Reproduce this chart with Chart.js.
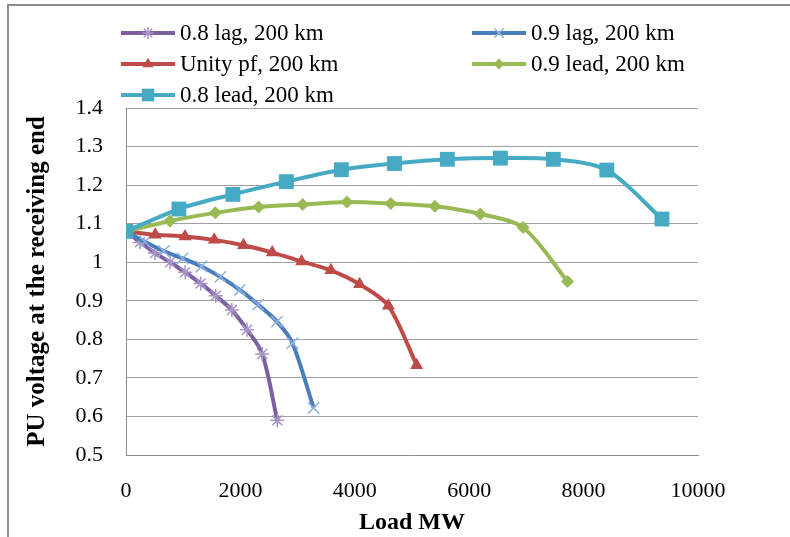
<!DOCTYPE html>
<html>
<head>
<meta charset="utf-8">
<script src="https://cdn.jsdelivr.net/npm/chart.js@4.4.0/dist/chart.umd.min.js"></script>
<style>
  html, body { margin: 0; padding: 0; background: #fff; overflow: hidden; }
  #wrap { position: relative; width: 790px; height: 537px; }
  #frame { position: absolute; left: 7px; top: 4px; width: 800px; height: 560px;
           border: 2px solid #8c8c8c; box-sizing: border-box; }
  canvas { position: absolute; left: 0; top: 0; }
</style>
</head>
<body>
<div id="wrap">
  <div id="frame"></div>
  <canvas id="myChart" width="790" height="537"></canvas>
</div>
<script>
'use strict';

// series data (Load MW, PU voltage)
const seriesNames = ['0.8 lag, 200 km', '0.9 lag, 200 km', 'Unity pf, 200 km', '0.9 lead, 200 km', '0.8 lead, 200 km'];

const loadLag08 = [0, 245, 508, 771, 1033, 1305, 1569, 1851, 2117, 2382, 2645];
const voltLag08 = [1.08, 1.052, 1.024, 1.0, 0.974, 0.945, 0.913, 0.876, 0.825, 0.762, 0.59];

const loadLag09 = [0, 330, 660, 990, 1320, 1650, 1990, 2310, 2640, 2910, 3280];
const voltLag09 = [1.08, 1.053, 1.029, 1.01, 0.989, 0.962, 0.928, 0.89, 0.846, 0.79, 0.622];

const loadUnity = [0, 511, 1031, 1543, 2054, 2557, 3070, 3581, 4084, 4587, 5081];
const voltUnity = [1.08, 1.071, 1.067, 1.058, 1.044, 1.025, 1.002, 0.979, 0.943, 0.887, 0.733];

const loadLead09 = [0, 767, 1561, 2319, 3088, 3863, 4630, 5399, 6193, 6942, 7720];
const voltLead09 = [1.08, 1.107, 1.128, 1.143, 1.15, 1.156, 1.152, 1.145, 1.125, 1.09, 0.95];

const loadLead08 = [0, 925, 1869, 2804, 3765, 4694, 5618, 6545, 7471, 8406, 9370];
const voltLead08 = [1.08, 1.138, 1.176, 1.209, 1.24, 1.256, 1.267, 1.27, 1.267, 1.239, 1.112];

const xTicks = [0, 2000, 4000, 6000, 8000, 10000];
const yTicks = [0.5, 0.6, 0.7, 0.8, 0.9, 1, 1.1, 1.2, 1.3, 1.4];

function pts(xs, ys) {
    return xs.map((x, i) => ({ x: x, y: ys[i] }));
}

const serif = '"Liberation Serif", "Times New Roman", serif';

// legend in two columns like the original
const gridLegend = {
    id: 'gridLegend',
    afterDraw(chart) {
        const ctx = chart.ctx;
        chart.data.datasets.forEach((ds, i) => {
            const x0 = i % 2 === 0 ? 121 : 472;
            const y = 33 + Math.floor(i / 2) * 31;
            ctx.save();
            ctx.strokeStyle = ds.borderColor;
            ctx.lineWidth = 4;
            ctx.beginPath();
            ctx.moveTo(x0, y);
            ctx.lineTo(x0 + 54, y);
            ctx.stroke();
            ctx.fillStyle = ds.pointBackgroundColor;
            ctx.strokeStyle = ds.pointBorderColor;
            ctx.lineWidth = ds.pointBorderWidth;
            Chart.helpers.drawPoint(ctx, {
                pointStyle: ds.pointStyle,
                radius: ds.pointRadius * 0.85,
                rotation: 0,
                borderWidth: ds.pointBorderWidth
            }, x0 + 27, y);
            ctx.fillStyle = '#000';
            ctx.font = '23px ' + serif;
            ctx.textBaseline = 'middle';
            ctx.textAlign = 'left';
            ctx.fillText(ds.label, x0 + 59, y + 1);
            ctx.restore();
        });
    }
};

const ctx = document.getElementById('myChart');

new Chart(ctx, {
    type: 'line',
    data: {
        datasets: [{
            label: seriesNames[0],
            data: pts(loadLag08, voltLag08),
            borderColor: '#7d60a0',
            pointStyle: 'star',
            pointRadius: 7,
            pointBackgroundColor: '#a893c8',
            pointBorderColor: '#a893c8',
            pointBorderWidth: 1.5,
            order: 4
        }, {
            label: seriesNames[1],
            data: pts(loadLag09, voltLag09),
            borderColor: '#4a7ebb',
            pointStyle: 'crossRot',
            pointRadius: 8,
            pointBackgroundColor: '#8fb3e0',
            pointBorderColor: '#8fb3e0',
            pointBorderWidth: 1.5,
            order: 3
        }, {
            label: seriesNames[2],
            data: pts(loadUnity, voltUnity),
            borderColor: '#be4b48',
            pointStyle: 'triangle',
            pointRadius: 7.5,
            pointBackgroundColor: '#be4b48',
            pointBorderColor: '#be4b48',
            pointBorderWidth: 0,
            order: 2
        }, {
            label: seriesNames[3],
            data: pts(loadLead09, voltLead09),
            borderColor: '#98b954',
            pointStyle: 'rectRot',
            pointRadius: 6.5,
            pointBackgroundColor: '#98b954',
            pointBorderColor: '#98b954',
            pointBorderWidth: 0,
            order: 1
        }, {
            label: seriesNames[4],
            data: pts(loadLead08, voltLead08),
            borderColor: '#46aac5',
            pointStyle: 'rect',
            pointRadius: 10.5,
            pointBackgroundColor: '#46aac5',
            pointBorderColor: '#46aac5',
            pointBorderWidth: 0,
            order: 0
        }]
    },
    options: {
        responsive: false,
        animation: false,
        layout: { padding: { top: 108, right: 92, left: 0, bottom: 0 } },
        elements: {
            line: { borderWidth: 4, tension: 0.3, fill: false },
            point: { hoverRadius: 0 }
        },
        plugins: {
            legend: { display: false },
            tooltip: { enabled: false }
        },
        scales: {
            x: {
                type: 'linear',
                min: 0,
                max: 10000,
                afterFit(scale) { scale.height = 82; },
                afterBuildTicks(scale) { scale.ticks = xTicks.map(v => ({ value: v })); },
                grid: { display: false, drawTicks: false },
                border: { display: true, color: '#8c8c8c', width: 1 },
                ticks: {
                    padding: 23,
                    color: '#000',
                    font: { family: serif, size: 22 },
                    callback: v => String(v)
                },
                title: {
                    display: true,
                    text: 'Load MW',
                    color: '#000',
                    font: { family: serif, size: 24, weight: 'bold' },
                    padding: { top: 0, bottom: 0 }
                }
            },
            y: {
                min: 0.5,
                max: 1.4,
                afterFit(scale) { scale.width = 126; },
                afterBuildTicks(scale) { scale.ticks = yTicks.map(v => ({ value: v })); },
                grid: { color: '#a0a0a0', lineWidth: 1, drawTicks: false },
                border: { display: true, color: '#8c8c8c', width: 1 },
                ticks: {
                    padding: 23,
                    color: '#000',
                    font: { family: serif, size: 22 },
                    callback: v => String(Number(v.toFixed(1)))
                },
                title: {
                    display: true,
                    text: 'PU voltage at the receiving end',
                    color: '#000',
                    font: { family: serif, size: 25, weight: 'bold' },
                    padding: { top: 23, bottom: 0 }
                }
            }
        }
    },
    plugins: [gridLegend]
});
</script>
</body>
</html>
